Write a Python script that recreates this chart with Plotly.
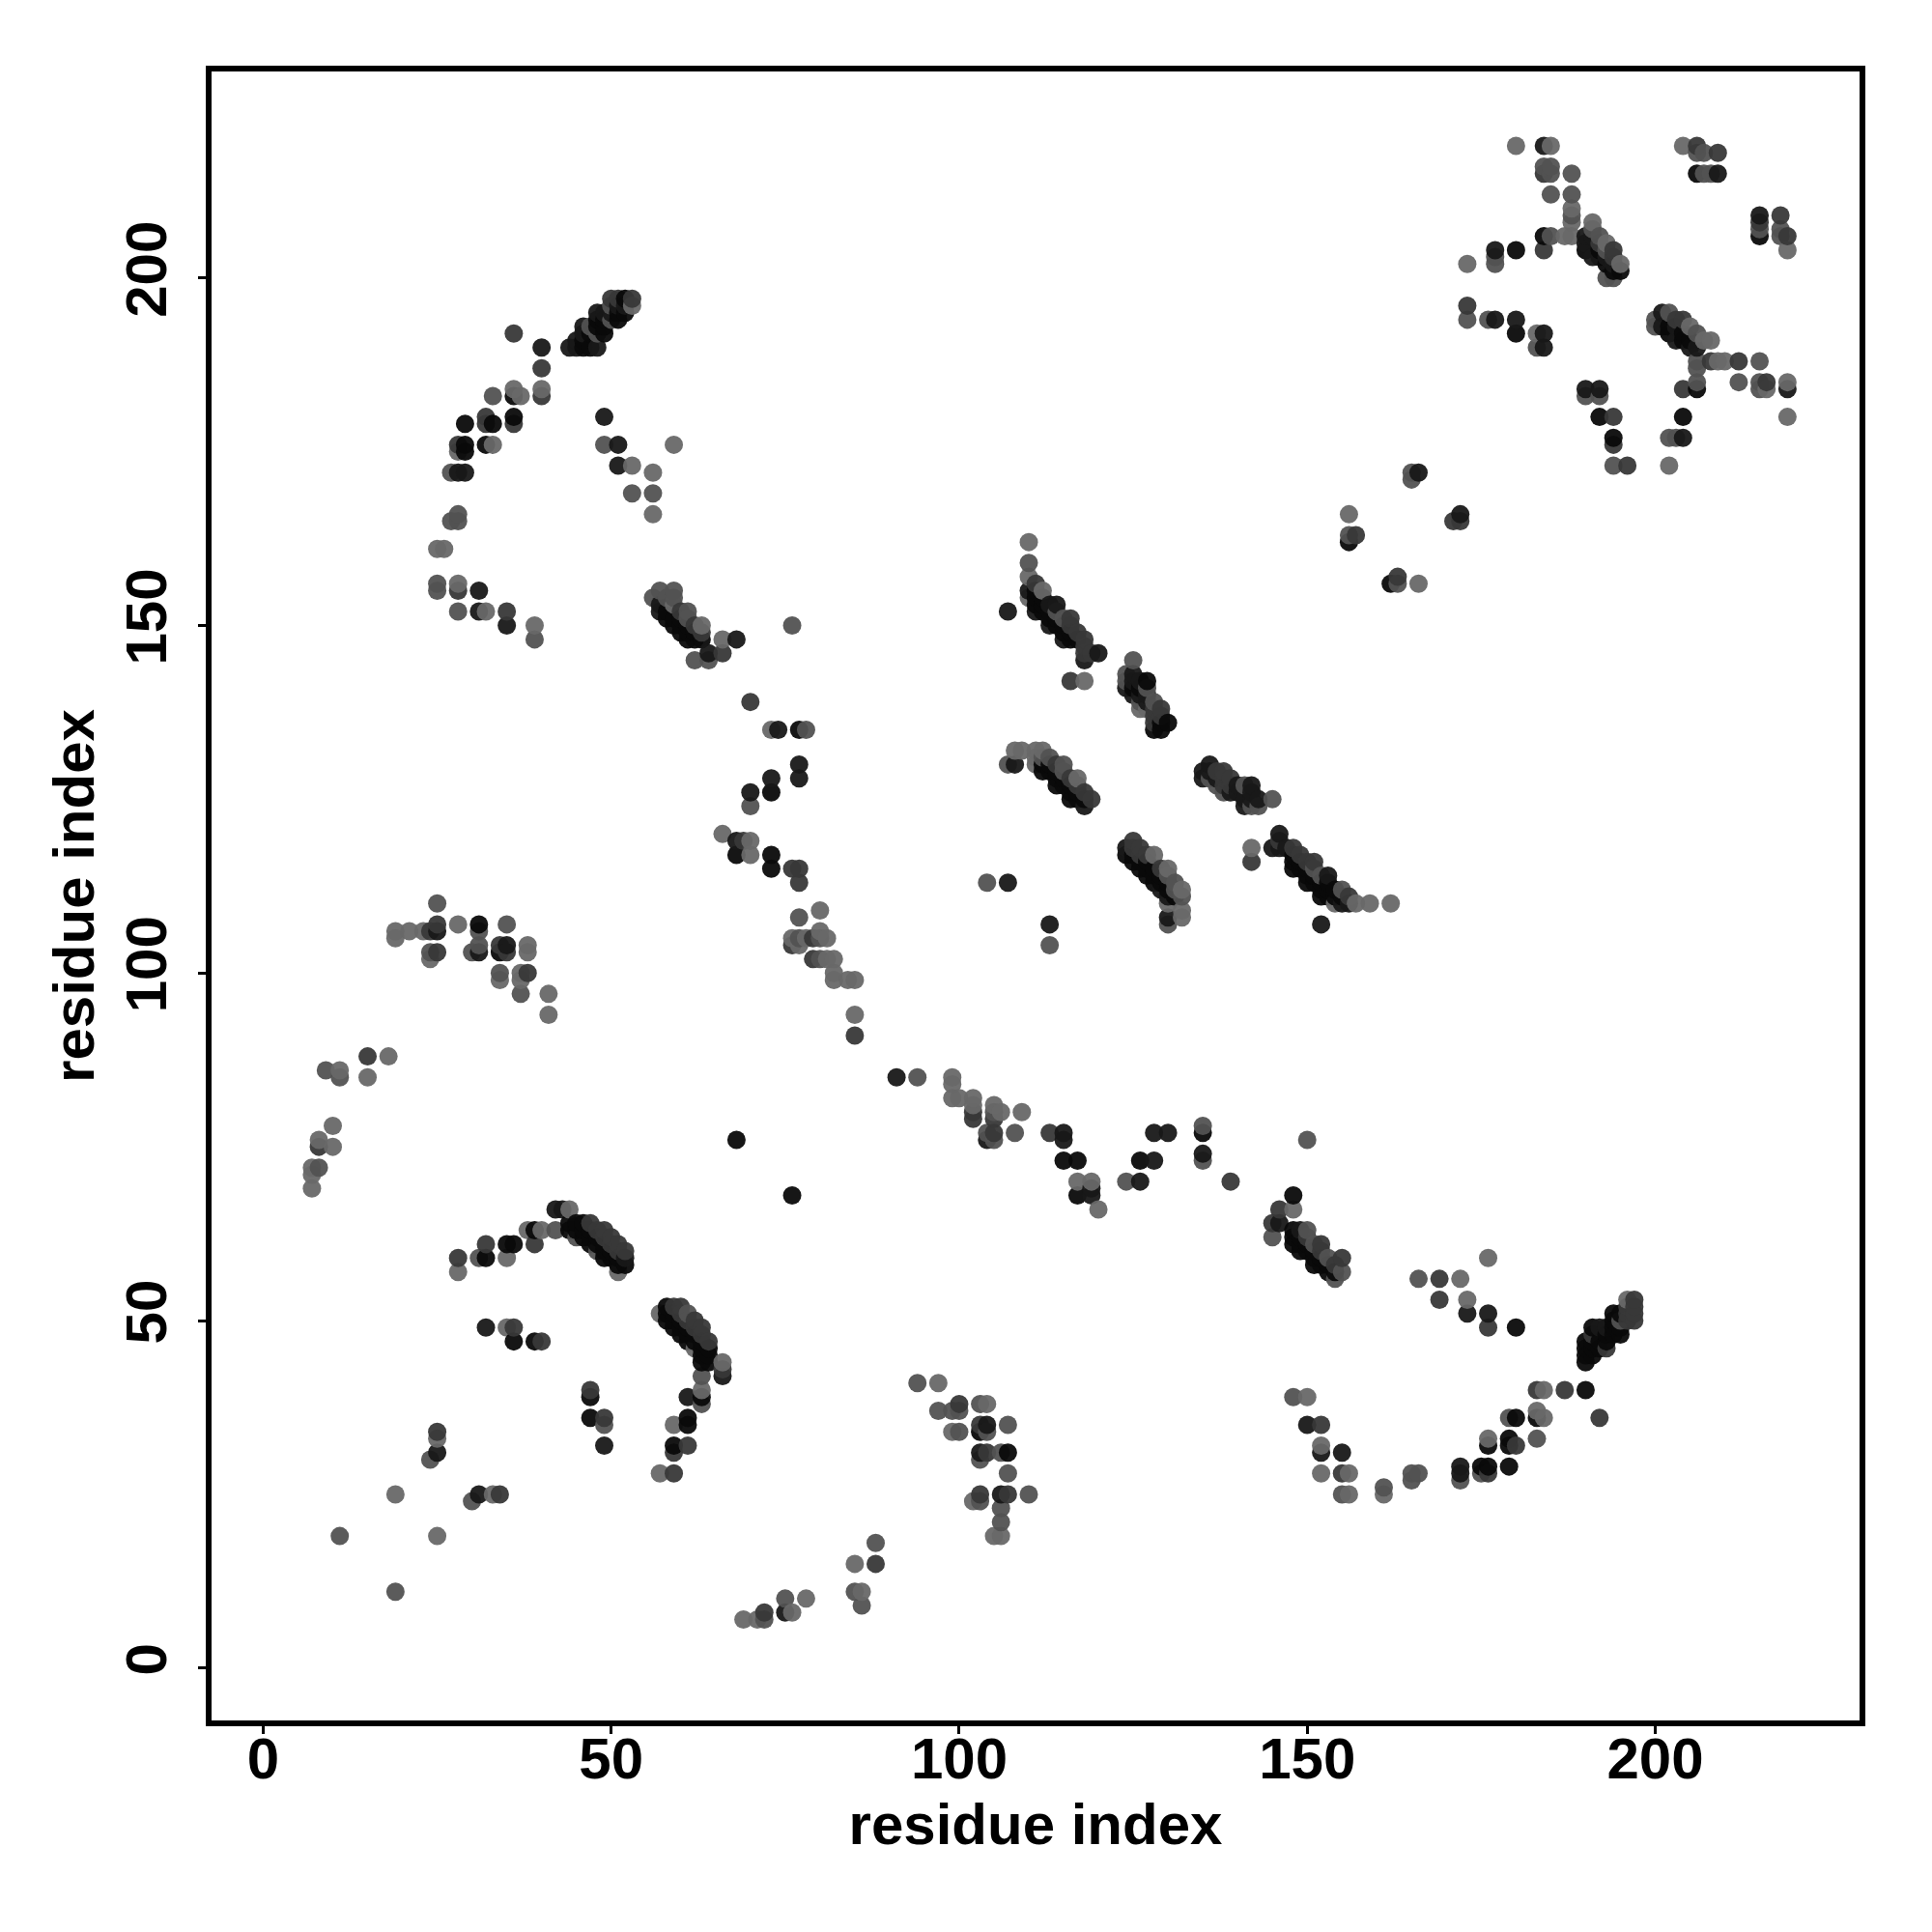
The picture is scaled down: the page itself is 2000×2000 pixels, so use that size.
import plotly.graph_objects as go

# (residue_i, residue_j, shade level: 1 darkest .. 5 lightest)
arc_upper_left = [(36,192,3),(40,190,2),(40,187,3),(40,184,5),(40,183,3),(36,184,5),(36,183,1),(37,183,5),(33,183,4),
 (36,180,1),(36,179,3),(32,180,3),(32,179,3),(33,179,1),(29,179,1),(28,176,3),(29,176,1),(28,175,5),(29,175,1),
 (32,176,1),(33,176,5),(27,172,4),(28,172,2),(29,172,2),(28,166,4),(27,165,4),(28,165,4),(25,161,5),(26,161,5),
 (25,156,4),(25,155,4),(28,156,5),(28,155,3),(31,155,2),(28,152,4),(31,152,2),(32,152,5),(35,152,3),(35,150,2),(39,150,5),(39,148,4)]
band_190 = [(44,190,2),(45,190,2),(46,190,1),(47,190,1),(48,190,2),(45,191,2),(46,191,1),(46,192,2),(46,193,2),(47,192,1),(47,193,4),
 (48,192,4),(49,192,1),(48,193,1),(48,194,1),(48,195,2),(49,193,1),(49,194,1),(49,195,2),(50,194,4),(50,195,2),(50,196,4),(50,197,3),
 (51,194,1),(51,195,1),(51,196,2),(51,197,3),(52,195,1),(52,196,2),(52,197,1),(53,196,5),(53,197,3)]
near_175 = [(49,180,2),(49,176,4),(51,176,2),(59,176,5),(51,173,2),(53,173,5),(56,172,5),(53,169,4),(56,169,4),(56,166,5)]
band_150 = [(56,154,4),(57,155,4),(58,154,4),(59,155,4),(59,154,4),(59,153,5),(60,152,3),(61,152,4),(61,151,4),(62,150,3),(63,150,5),(63,149,3),
 (57,153,2),(57,152,2),(58,152,1),(58,151,1),(59,151,1),(59,150,1),(60,151,1),(60,150,1),(60,149,1),(61,150,1),(61,149,1),(61,148,1),
 (62,149,1),(62,148,1),(63,148,1),(66,148,5),(68,148,2),(64,146,2),(66,146,3),(62,145,4),(64,145,4),(76,150,4)]
middle_chain = [(70,139,3),(73,135,5),(74,135,2),(77,135,1),(78,135,4),(77,130,2),(77,128,2),(73,128,2),(73,126,1),(70,126,2),(70,124,4),
 (66,120,5),(68,119,2),(69,119,3),(70,119,5),(68,117,1),(70,117,5),(73,117,1),(73,115,1),(76,115,3),(77,115,3),(77,113,3),
 (80,109,5),(77,108,4),(80,106,5),(76,105,5),(77,105,4),(78,105,5),(79,105,3),(80,105,4),(81,105,5),(76,104,3),(77,104,5),
 (79,102,3),(80,102,4),(81,102,5),(82,102,5),(82,100,5),(82,99,5),(84,99,5),(85,99,5),(85,94,5),(85,91,3),(68,76,1),(76,68,1)]
band_110 = [(107,152,2),(110,155,2),(110,154,5),(110,157,5),(110,159,4),(110,162,5),(111,156,3),(111,155,1),(111,154,1),(111,153,1),(111,152,2),
 (112,155,5),(112,154,1),(112,153,1),(112,152,1),(113,153,2),(113,152,1),(113,151,1),(113,150,2),(114,153,2),(114,152,4),(114,151,1),(114,150,1),
 (115,151,4),(115,150,1),(115,149,1),(115,148,2),(116,151,3),(116,150,3),(116,149,1),(116,148,1),(117,149,3),(117,148,1),(118,148,3),(118,147,3),
 (118,146,3),(118,145,2),(119,146,3),(120,146,2),(116,142,3),(118,142,5)]
band_125 = [(125,145,4),(124,143,4),(124,142,4),(124,141,2),(125,143,2),(125,142,2),(125,141,1),(125,140,2),(126,142,2),(126,141,1),(126,140,2),(126,139,4),
 (126,138,5),(127,142,1),(127,141,4),(127,140,2),(127,139,2),(127,138,5),(128,139,4),(128,138,3),(128,137,3),(128,136,3),(128,135,1),
 (129,138,3),(129,137,3),(129,136,1),(129,135,1),(130,136,1)]
band_130 = [(107,130,4),(108,130,2),(108,132,5),(109,132,5),(111,132,5),(112,132,5),(111,131,5),(111,130,5),(112,131,4),(112,130,1),(112,129,1),
 (113,131,4),(113,130,1),(113,129,1),(114,130,3),(114,129,1),(114,128,1),(114,127,1),(115,130,4),(115,129,4),(115,128,1),(115,127,1),
 (116,128,3),(116,127,1),(116,126,1),(116,125,1),(117,128,5),(117,127,3),(117,126,1),(117,125,1),(118,126,3),(118,125,1),(118,124,2),(119,125,3)]
band_136 = [(135,129,2),(135,128,2),(136,130,2),(136,129,2),(136,128,4),(137,129,3),(137,128,2),(137,127,4),(138,129,3),(138,128,3),(138,127,3),(138,126,4),
 (139,128,3),(139,127,3),(139,126,2),(140,127,2),(140,126,2),(141,127,4),(141,125,2),(141,124,2),(142,127,2),(142,126,2),(142,125,2),(142,124,4),
 (143,125,2),(143,124,4),(145,125,4)]
band_118 = [(124,118,2),(124,117,1),(125,119,3),(125,118,3),(125,117,1),(125,116,1),(126,118,3),(126,117,3),(126,116,1),(126,115,1),(127,117,3),(127,116,1),
 (127,115,1),(127,114,1),(128,117,5),(128,115,1),(128,114,1),(128,113,1),(129,115,3),(129,114,1),(129,113,1),(129,112,2),(130,115,5),(130,114,4),
 (130,113,1),(130,112,1),(130,111,2),(130,110,5),(131,113,4),(131,112,4),(131,111,1),(132,112,5),(132,111,4),(132,109,5),(132,108,5),(130,108,2),(130,107,4)]
band_145 = [(142,118,5),(142,116,3),(145,118,2),(146,120,2),(146,119,3),(146,118,2),(147,118,2),(148,118,3),(148,117,1),(148,116,1),(148,115,1),
 (149,117,3),(149,116,1),(149,115,1),(150,116,3),(150,115,1),(150,114,1),(150,113,1),(151,116,3),(151,115,4),(151,114,1),(151,113,1),(152,114,4),
 (152,113,1),(152,112,1),(152,111,1),(153,114,2),(153,113,1),(153,112,1),(153,111,1),(154,112,1),(154,111,1),(154,110,5),(155,112,4),(155,111,1),
 (155,110,2),(156,111,3),(156,110,2),(157,110,5),(159,110,5),(162,110,5),(152,107,2),(104,113,4),(107,113,2),(113,107,2),(113,104,4)]
upper_mid = [(156,166,5),(156,163,4),(157,163,3),(156,162,1),(162,156,1),(163,157,3),(163,156,4),(166,156,5),(165,172,4),(165,171,4),(166,172,2),
 (172,166,2),(171,165,3),(172,165,3)]
top_right_a = [(180,219,5),(184,219,2),(185,219,5),(184,216,4),(184,215,3),(185,216,4),(185,215,4),(188,215,4),(185,212,4),(188,212,4),(188,210,5),
 (188,209,4),(188,208,5),(191,208,5),(184,206,1),(185,206,4),(187,206,5),(188,206,5),(184,204,3),(180,204,1),(177,204,2),(177,203,4),(177,202,4),(173,202,5),
 (190,206,2),(190,205,2),(191,207,4),(191,206,2),(192,206,4),(193,205,5),(194,204,3),(195,202,5),(190,204,1),(191,203,2),(192,205,3),(192,204,1),
 (193,204,4),(193,203,2),(193,202,1),(192,203,2),(194,203,3),(194,202,2),(194,201,1),(195,201,1),(193,200,4),(194,200,4)]
top_right_b = [(204,219,5),(206,219,3),(206,218,4),(207,218,4),(209,218,3),(206,215,1),(207,215,4),(208,215,4),(209,215,2),
 (215,209,2),(215,208,3),(215,207,4),(215,206,1),(218,209,3),(218,207,4),(218,206,4),(219,206,3),(219,204,5)]
right_lower = [(173,196,3),(173,194,4),(176,194,4),(177,194,2),(180,194,2),(180,192,1),(183,192,5),(184,192,2),(183,190,4),(184,190,2),
 (200,194,4),(200,193,4),(201,195,2),(202,195,4),(201,193,2),(203,194,3),(203,193,2),(204,194,3),(205,193,5),(206,192,4),(207,191,5),(208,191,5),
 (202,193,1),(202,192,1),(203,191,2),(204,192,1),(204,191,1),(205,191,1),(205,190,2),(206,190,2),(206,188,4),(206,187,4),(208,188,3),(209,188,5),(210,188,5),
 (212,188,3),(215,188,4),(212,185,4),(215,185,4),(215,184,4),(216,185,3),(216,184,5),(219,185,5),(219,184,2),(219,180,5),(206,185,4),(206,184,1),(204,184,3),
 (204,180,1),(204,177,2),(203,177,4),(202,177,4),(202,173,5),(190,184,2),(190,183,4),(192,184,2),(192,183,4),(192,180,1),(194,180,3),(194,177,1),(194,176,3),
 (194,173,4),(196,173,3)]
left_lower = [(7,72,5),(8,72,4),(7,71,5),(7,69,5),(10,78,5),(8,76,5),(8,75,3),(10,75,5),(9,86,4),(11,86,5),(11,85,4),(15,88,3),(15,85,5),(18,88,5)]
arc_105 = [(25,110,4),(19,106,5),(19,105,5),(21,106,5),(23,106,5),(24,106,3),(25,107,3),(25,106,2),(28,107,5),(31,107,1),(31,106,4),(35,107,4),
 (24,103,4),(24,102,5),(25,103,3),(30,103,4),(31,104,4),(31,103,2),(34,104,3),(34,103,1),(35,104,2),(35,103,3),(38,104,5),(38,103,5),
 (34,100,4),(34,99,5),(37,100,5),(38,100,3),(37,99,5),(37,97,4),(41,97,5),(41,94,5)]
arc_60 = [(42,66,2),(43,66,2),(44,66,5),(38,63,5),(39,63,1),(40,63,5),(42,63,4),(39,61,3),(44,64,1),(44,63,1),(45,64,1),(45,63,1),(45,62,4),(46,64,1),(46,63,1),
 (46,62,1),(47,64,3),(47,63,1),(47,62,1),(47,61,1),(48,63,3),(48,62,1),(48,61,1),(48,60,4),(49,63,3),(49,62,3),(49,61,1),(49,60,1),(49,59,1),(50,62,3),(50,61,3),
 (50,60,1),(50,59,1),(51,61,3),(51,60,3),(51,59,1),(51,58,1),(51,57,5),(52,60,3),(52,59,2),(52,58,1),(32,61,3),(32,59,1),(31,59,4),(35,61,1),(36,61,1),(35,59,5),
 (28,59,3),(28,57,5),(32,49,2),(35,49,5),(36,49,3),(36,47,1),(39,47,1),(40,47,3),(47,40,3),(47,39,1),(47,36,1),(49,36,3),(49,35,4),(49,32,2)]
band_50 = [(57,51,5),(58,52,1),(58,51,1),(58,50,1),(59,52,3),(59,51,1),(59,50,1),(59,49,1),(60,52,3),(60,51,3),(60,50,1),(60,49,1),(60,48,1),(61,51,4),(61,50,3),
 (61,49,1),(61,48,1),(61,47,1),(62,50,3),(62,49,3),(62,48,1),(62,47,1),(62,46,5),(63,49,3),(63,48,3),(63,47,1),(63,46,1),(63,45,1),(63,44,1),(64,47,3),(64,46,1),
 (64,45,1),(64,44,1),(66,44,5),(66,43,3),(66,42,2),(63,42,4),(63,40,5),(63,39,1),(63,38,4),(61,39,2),(61,36,1),(61,35,1),(59,35,5),(59,32,1),(59,31,3),(61,32,3),
 (57,28,5),(59,28,3)]
bottom_left = [(25,34,3),(25,33,5),(25,31,2),(24,30,4),(19,25,5),(31,25,2),(33,25,5),(34,25,3),(30,24,4),(11,19,4),(25,19,5),(19,11,4)]
band_60_right = [(148,68,1),(146,66,3),(148,66,5),(145,64,3),(146,64,2),(145,62,4),(148,63,1),(148,62,1),(148,61,1),(149,63,2),(149,62,1),(149,61,1),(149,60,1),
 (150,63,4),(150,62,3),(150,61,1),(150,60,1),(151,61,4),(151,60,1),(151,59,1),(151,58,1),(152,61,3),(152,60,3),(152,59,1),(152,58,1),(153,59,4),(153,58,1),(153,57,1),
 (154,58,3),(154,57,1),(154,56,4),(155,59,3),(155,57,4)]
mid_right = [(176,59,5),(166,56,4),(169,56,3),(172,56,5),(169,53,3),(173,53,5),(173,51,2),(176,51,2),(176,49,3),(180,49,1)]
band_47 = [(190,44,1),(190,45,1),(190,46,1),(190,47,1),(191,45,1),(191,46,1),(191,47,1),(191,48,3),(191,49,1),(192,46,1),(192,47,1),(192,49,2),(193,46,3),(193,47,1),
 (193,48,1),(193,49,2),(194,48,1),(194,49,1),(194,50,1),(194,51,1),(195,48,1),(195,49,1),(195,50,4),(195,51,1),(196,50,3),(196,51,3),(196,52,3),(196,53,5),
 (197,50,3),(197,51,3),(197,52,3),(197,53,3)]
arc_30_right = [(183,40,3),(184,40,5),(187,40,3),(190,40,1),(192,36,3),(179,36,4),(180,36,1),(183,37,5),(183,36,1),(184,36,5),(183,33,4),(176,33,5),(176,32,1),(179,33,1),
 (179,32,1),(180,32,3),(172,29,2),(172,28,2),(172,27,4),(175,29,1),(176,29,1),(175,28,4),(176,28,3),(179,29,1),(165,28,4),(166,28,4),(165,27,4),(161,26,4),(161,25,5),
 (148,39,4),(150,39,5),(150,35,2),(152,35,3),(152,32,5),(152,31,2),(155,31,2),(152,28,5),(155,28,3),(156,28,5),(155,25,4),(156,25,5)]
chain_80 = [(91,85,2),(94,85,4),(99,85,5),(99,84,5),(99,82,5),(100,82,5),(102,82,5),(102,81,5),(102,80,3),(102,79,3),(105,81,5),(105,80,4),(106,80,5),(105,79,3),(109,80,5),
 (104,77,4),(105,77,3),(104,76,2),(105,76,4),(108,77,4),(113,77,3),(115,77,2),(115,76,2),(115,73,1),(117,73,1),(117,70,5),(119,70,5),(117,68,1),(119,69,2),(119,68,2),
 (120,66,5),(124,70,4),(126,70,2),(126,73,1),(128,73,2),(128,77,2),(130,77,2),(135,78,4),(135,77,1),(135,74,2),(135,73,4),(139,70,3),(150,76,4)]
patch_100 = [(94,41,4),(97,41,5),(97,37,4),(99,37,4),(100,38,3),(100,37,4),(103,38,4),(104,38,5),(99,34,5),(100,34,4),(103,35,3),(104,35,2),(103,34,1),(104,34,4),(107,35,4),
 (103,31,2),(104,31,3),(103,30,4),(106,31,4),(107,31,1),(107,28,4),(102,24,5),(103,25,3),(103,24,4),(106,25,2),(107,25,3),(106,23,4),(110,25,4),(106,21,4),(105,19,5),(106,19,5)]
bottom_chain = [(88,18,4),(85,15,5),(88,15,3),(85,11,4),(86,11,5),(86,9,4),(75,10,4),(78,10,5),(75,8,2),(76,8,5),(69,7,5),(71,7,5),(72,8,3),(72,7,4)]

all_groups = [arc_upper_left, band_190, near_175, band_150, middle_chain, band_110, band_125, band_130, band_136, band_118, band_145,
              upper_mid, top_right_a, top_right_b, right_lower, left_lower, arc_105, arc_60, band_50, bottom_left, band_60_right,
              mid_right, band_47, arc_30_right, chain_80, patch_100, bottom_chain]
contacts = sorted(t for g in all_groups for t in g)
shade_gray = {1: 10, 2: 24, 3: 56, 4: 82, 5: 104}
tick_vals = [0, 50, 100, 150, 200]

F = dict(family="Liberation Sans, Arial, sans-serif", size=60, color="black", weight="bold")
fig = go.Figure(go.Scatter(
    x=[c[0] for c in contacts], y=[c[1] for c in contacts], mode="markers",
    marker=dict(size=19, opacity=0.95, line=dict(width=0),
                color=[f"rgb({shade_gray[c[2]]},{shade_gray[c[2]]},{shade_gray[c[2]]})" for c in contacts]),
))
axis = dict(showgrid=False, zeroline=False, showline=True, mirror=True, linecolor="black", linewidth=6,
            ticks="outside", ticklen=8, tickwidth=3, tickcolor="black", tickvals=tick_vals, tickfont=F)
fig.update_xaxes(**axis, range=[-7.42, 229.36], ticklabelstandoff=-26, title=dict(text="residue index", font=F, standoff=16))
fig.update_yaxes(**axis, range=[-7.53, 229.7], ticklabelstandoff=9, tickangle=-90, title=dict(text="residue index", font=F, standoff=3))
fig.update_layout(width=2000, height=2000, plot_bgcolor="white", paper_bgcolor="white", showlegend=False,
                  margin=dict(l=218.5, r=75, t=73.5, b=218.5, autoexpand=False))
fig.write_html("out.html", config=dict(displayModeBar=False), post_script="document.body.style.margin='0';")
